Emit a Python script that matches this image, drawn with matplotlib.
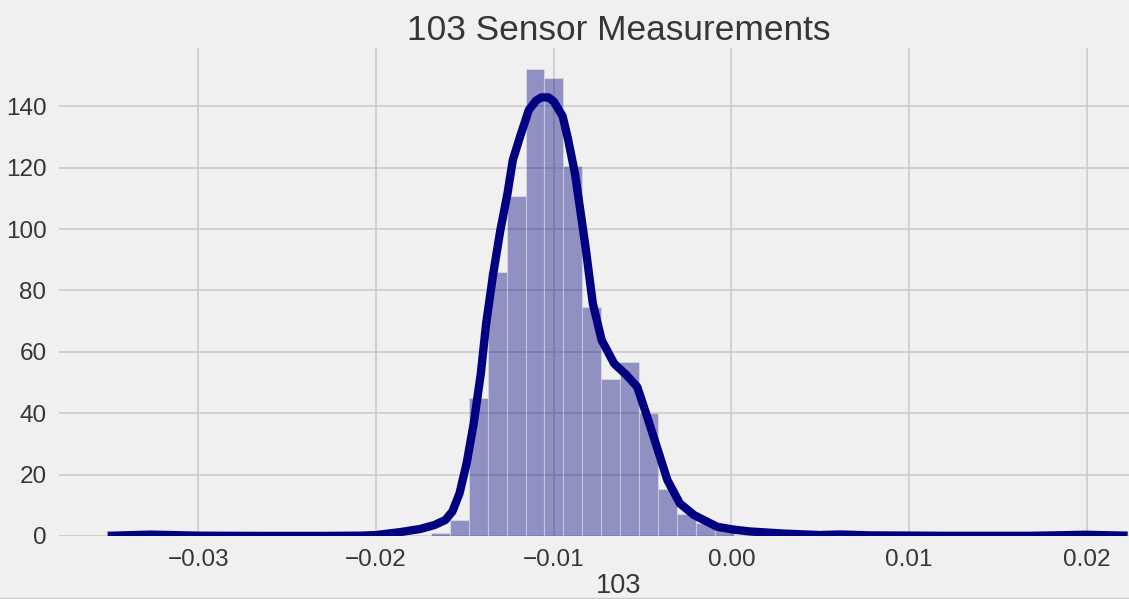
import numpy as np
import matplotlib
matplotlib.use("Agg")
import matplotlib.pyplot as plt
from matplotlib.lines import Line2D

# histogram (density)
bin_edges = [-0.01690, -0.01584, -0.01477, -0.01371, -0.01265, -0.01158, -0.01052,
             -0.00945, -0.00839, -0.00733, -0.00626, -0.00520, -0.00414, -0.00307,
             -0.00201, -0.00095, 0.00012]
bin_heights = [0.9, 5.1, 45.0, 86.0, 110.7, 152.1, 149.2, 120.5, 74.6, 51.0,
               56.8, 40.0, 15.2, 7.1, 4.3, 1.9]

# kde curve
kde_x = [-0.0351, -0.0327, -0.0299, -0.0265, -0.0232, -0.0209, -0.0200, -0.0186,
         -0.0175, -0.0167, -0.0161, -0.0157, -0.0153, -0.0149, -0.0145, -0.0141,
         -0.0138, -0.0134, -0.0130, -0.0126, -0.0123, -0.0119, -0.0114, -0.0110,
         -0.0107, -0.0103, -0.0100, -0.0095, -0.0092, -0.0088, -0.0085, -0.0082,
         -0.0078, -0.0073, -0.0066, -0.0059, -0.0053, -0.0048, -0.0042, -0.0036,
         -0.0029, -0.0021, -0.0008, 0.0001, 0.0010, 0.0029, 0.0050, 0.0061,
         0.0078, 0.0123, 0.0168, 0.0199, 0.0223]
kde_y = [0.05, 0.45, 0.1, 0.02, 0.02, 0.1, 0.3, 1.3,
         2.3, 3.6, 5.2, 8.0, 13.9, 23.7, 36.7, 53.0,
         69.3, 85.6, 99.7, 111.6, 122.5, 130.0, 138.8, 141.8,
         142.9, 142.9, 141.6, 136.8, 129.5, 118.0, 106.0, 93.8,
         75.8, 63.8, 56.2, 52.4, 48.6, 39.9, 29.1, 18.2,
         10.6, 6.8, 3.0, 2.1, 1.5, 0.8, 0.3, 0.5,
         0.2, 0.05, 0.05, 0.4, 0.1]

title = "103 Sensor Measurements"
xlabel = "103"
y_ticks = [0, 20, 40, 60, 80, 100, 120, 140]
x_ticks = [-0.03, -0.02, -0.01, 0.00, 0.01, 0.02]

plt.rcParams['font.family'] = ['Liberation Sans', 'DejaVu Sans']
bg = '#f0f0f0'
txt = '#363636'

fig = plt.figure(figsize=(11.29, 5.99), dpi=100, facecolor=bg)
# axes runs past the right edge like the cropped original
ax = fig.add_axes([59 / 1129, 1 - 536 / 599, 1120 / 1129, 488 / 599])
ax.set_facecolor(bg)

edges = np.array(bin_edges)
ax.bar(edges[:-1], bin_heights, width=np.diff(edges), align='edge',
       color='navy', alpha=0.4, edgecolor='#f0f0f0', linewidth=0.8, zorder=2)
ax.plot(kde_x, kde_y, color='navy', lw=6, solid_joinstyle='round',
        solid_capstyle='butt', zorder=3)

ax.set_xlim(-0.03784, 0.02519)
ax.set_ylim(0, 159)
ax.set_xticks(x_ticks)
ax.set_xticklabels([f"{v:.2f}".replace('-', '\u2212') for v in x_ticks])
ax.set_yticks(y_ticks)

ax.grid(True, color='#cbcbcb', lw=1.2, zorder=0)
ax.set_axisbelow(True)
for s in ax.spines.values():
    s.set_visible(False)
ax.tick_params(length=0, labelsize=17.5, colors=txt, pad=9)

ax.set_title(title, fontsize=25.4, color=txt, pad=6)
ax.set_xlabel(xlabel, fontsize=19.5, color=txt, labelpad=2)

fig.add_artist(Line2D([0, 1], [0.0025, 0.0025], transform=fig.transFigure,
                      color='#c8c8c8', lw=1))

fig.savefig('out.png', dpi=100, facecolor=bg)
